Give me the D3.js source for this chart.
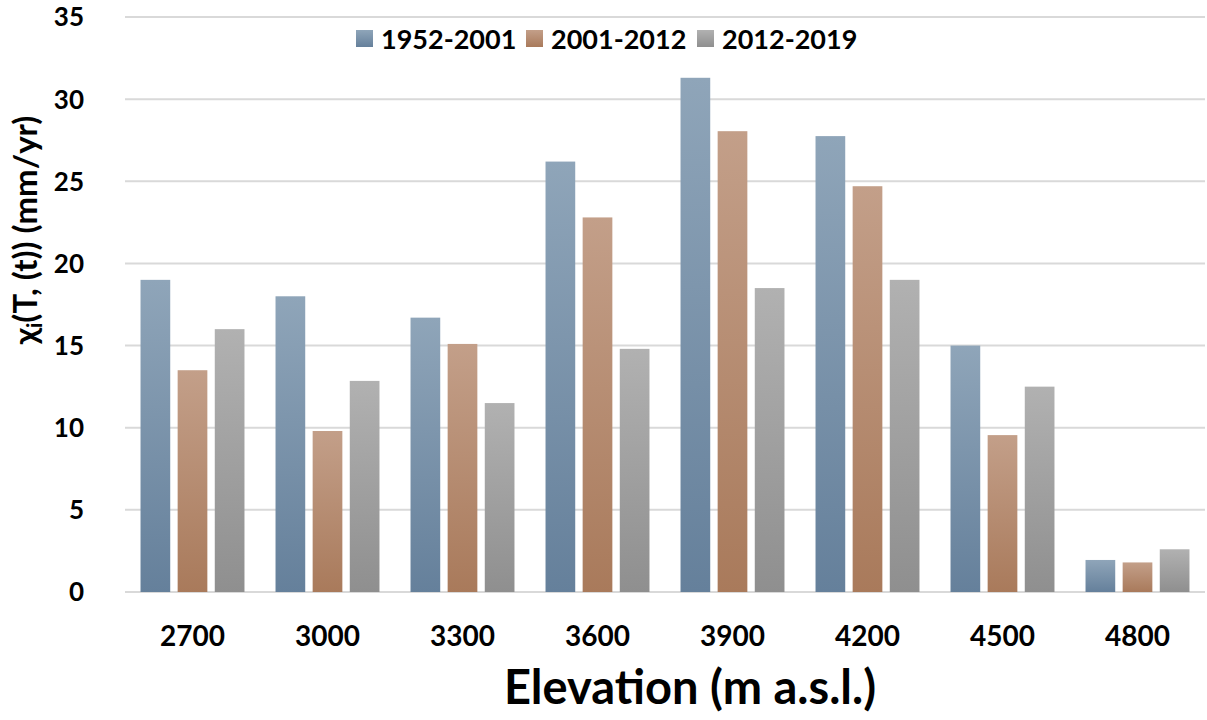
<!DOCTYPE html>
<html>
<head>
<meta charset="utf-8">
<title>Elevation chart</title>
<script src="https://cdnjs.cloudflare.com/ajax/libs/d3/7.8.5/d3.min.js"></script>
<style>
  body { margin: 0; background: #fff; }
  text { font-family: Lato, "Open Sans", sans-serif; font-weight: bold; fill: #000; }
</style>
</head>
<body>
<div id="chart"></div>
<script>
// data
var elevations = ["2700", "3000", "3300", "3600", "3900", "4200", "4500", "4800"];
var periods = ["1952-2001", "2001-2012", "2012-2019"];
var v1952_2001 = [19.0, 18.0, 16.7, 26.2, 31.3, 27.75, 15.0, 1.95];
var v2001_2012 = [13.5, 9.8, 15.1, 22.8, 28.05, 24.7, 9.55, 1.8];
var v2012_2019 = [16.0, 12.85, 11.5, 14.8, 18.5, 19.0, 12.5, 2.6];
var yTicks = [0, 5, 10, 15, 20, 25, 30, 35];

var series = [v1952_2001, v2001_2012, v2012_2019];
var colours = [["#8fa5b9", "#65809b"], ["#c39f89", "#a97a5b"], ["#b1b1b1", "#8f8f8f"]];

var W = 1207, H = 720;
var plotLeft = 125, plotRight = 1205, plotTop = 17, plotBottom = 592;

var svg = d3.select("#chart").append("svg")
  .attr("width", W).attr("height", H);

var defs = svg.append("defs");
colours.forEach(function(c, i) {
  var g = defs.append("linearGradient")
    .attr("id", "grad" + i)
    .attr("x1", 0).attr("y1", 0).attr("x2", 0).attr("y2", 1);
  g.append("stop").attr("offset", "0%").attr("stop-color", c[0]);
  g.append("stop").attr("offset", "100%").attr("stop-color", c[1]);
});

var x0 = d3.scaleBand().domain(elevations).range([plotLeft, plotRight]).paddingInner(0.23).paddingOuter(0.115);
var x1 = d3.scaleBand().domain(d3.range(periods.length)).range([0, x0.bandwidth()]).paddingInner(0.2);
var y = d3.scaleLinear().domain([0, 35]).range([plotBottom, plotTop]);

// grid
svg.append("g").selectAll("line")
  .data(yTicks)
  .enter().append("line")
    .attr("x1", plotLeft).attr("x2", plotRight)
    .attr("y1", function(d) { return y(d); })
    .attr("y2", function(d) { return y(d); })
    .attr("stroke", "#d9d9d9")
    .attr("stroke-width", 2);

// y tick labels
svg.append("g").selectAll("text")
  .data(yTicks)
  .enter().append("text")
    .attr("x", 84)
    .attr("y", function(d) { return y(d); })
    .attr("dy", "0.36em")
    .attr("text-anchor", "end")
    .style("font-size", "26px")
    .text(function(d) { return d; });

// bars
var groups = svg.append("g").selectAll("g")
  .data(elevations)
  .enter().append("g")
    .attr("transform", function(d) { return "translate(" + x0(d) + ",0)"; });

groups.selectAll("rect")
  .data(function(d, i) { return series.map(function(s, k) { return { k: k, v: s[i] }; }); })
  .enter().append("rect")
    .attr("x", function(d) { return x1(d.k); })
    .attr("y", function(d) { return y(d.v); })
    .attr("width", x1.bandwidth())
    .attr("height", function(d) { return y(0) - y(d.v); })
    .attr("fill", function(d) { return "url(#grad" + d.k + ")"; });

// x tick labels
svg.append("g").selectAll("text")
  .data(elevations)
  .enter().append("text")
    .attr("x", function(d) { return x0(d) + x0.bandwidth() / 2; })
    .attr("y", 646)
    .attr("text-anchor", "middle")
    .style("font-size", "28px")
    .text(function(d) { return d; });

// axis titles
svg.append("text")
  .attr("x", 690).attr("y", 704)
  .attr("text-anchor", "middle")
  .style("font-size", "47px")
  .text("Elevation (m a.s.l.)");

var yt = svg.append("text")
  .attr("transform", "translate(37,230) rotate(-90)")
  .attr("text-anchor", "middle")
  .style("font-size", "33px");
yt.append("tspan").text("χ");
yt.append("tspan").attr("baseline-shift", "-25%").style("font-size", "21px").text("i");
yt.append("tspan").text("(T, (t)) (mm/yr)");

// legend
var legendX = [356, 526, 697];
var leg = svg.append("g").selectAll("g")
  .data(periods)
  .enter().append("g")
    .attr("transform", function(d, i) { return "translate(" + legendX[i] + ",30)"; });
leg.append("rect")
  .attr("width", 17).attr("height", 17)
  .attr("fill", function(d, i) { return "url(#grad" + i + ")"; });
leg.append("text")
  .attr("x", 25).attr("y", 9)
  .attr("dy", "0.36em")
  .style("font-size", "27px")
  .text(function(d) { return d; });
</script>
</body>
</html>
